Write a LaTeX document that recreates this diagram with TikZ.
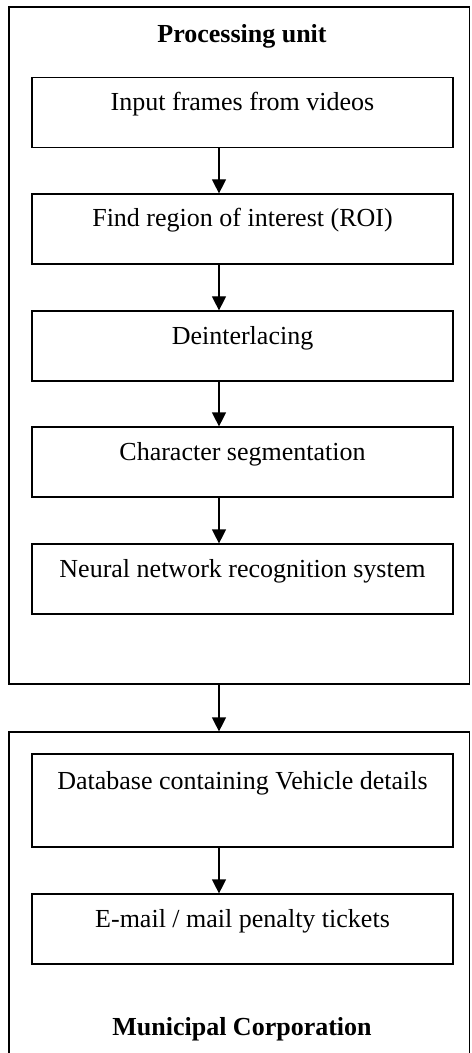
\documentclass[tikz,border=0pt]{standalone}
\usepackage{fontspec}
\setmainfont{Liberation Serif}
\usetikzlibrary{arrows.meta}

\tikzset{
	unitbox/.style = {draw, line width=0.6pt, minimum width=230.25pt, inner sep=0pt},
	stepbox/.style = {draw, line width=0.6pt, minimum width=210.5pt, inner xsep=2pt, inner ysep=3pt,
		text height=13.5pt, text depth=15.5pt, font=\fontsize{13}{15}\selectfont},
	unittitle/.style = {anchor=base, font=\fontsize{13}{15}\selectfont\bfseries},
	flow/.style = {line width=0.6pt, -{Triangle[width=7pt,length=7pt]}}
}

\begin{document}
\begin{tikzpicture}[x=0.5pt, y=-0.5pt]
	\useasboundingbox (0,0) rectangle (471,1053);
	% the two units
	\node [unitbox, minimum height=338.5pt] (proc) at (239.25,345.5) {};
	\node [unitbox, minimum height=169pt] (corp) at (239.25,901) {};
	\node [unittitle] (proctitle) at (242,43) {Processing unit};
	\node [unittitle] (corptitle) at (242,1035) {Municipal Corporation};
	% steps
	\node [stepbox] (input) at (242.5,112.5) {Input frames from videos};
	\node [stepbox] (roi) at (242.5,229) {Find region of interest (ROI)};
	\node [stepbox] (deint) at (242.5,346) {Deinterlacing};
	\node [stepbox] (seg) at (242.5,462) {Character segmentation};
	\node [stepbox] (nn) at (242.5,579) {Neural network recognition system};
	\node [stepbox, text height=14.5pt, text depth=26pt] (db) at (242.5,800.5) {Database containing Vehicle details};
	\node [stepbox] (mail) at (242.5,929) {E-mail / mail penalty tickets};
	% arrows
	\coordinate (ax) at (219,0);
	\draw [flow] (input.south -| ax) -- (roi.north -| ax);
	\draw [flow] (roi.south -| ax) -- (deint.north -| ax);
	\draw [flow] (deint.south -| ax) -- (seg.north -| ax);
	\draw [flow] (seg.south -| ax) -- (nn.north -| ax);
	\draw [flow] (proc.south -| ax) -- (corp.north -| ax);
	\draw [flow] (db.south -| ax) -- (mail.north -| ax);
\end{tikzpicture}
\end{document}
